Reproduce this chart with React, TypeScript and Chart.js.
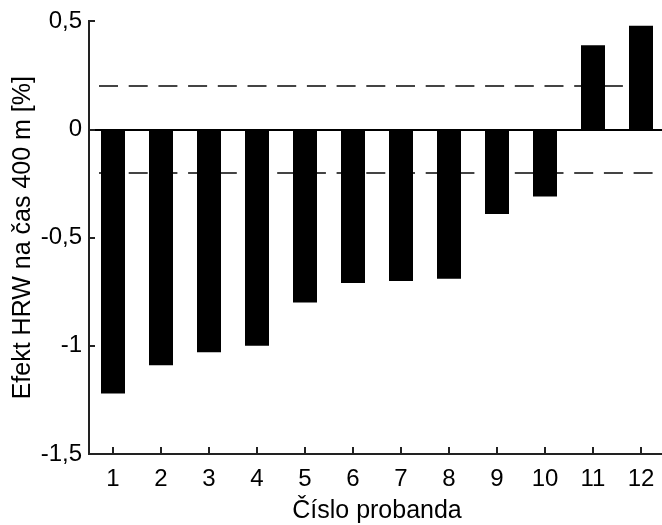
import React, { useEffect, useRef } from 'react';
import { Chart, registerables } from 'chart.js';

Chart.register(...registerables);

const categories = ['1', '2', '3', '4', '5', '6', '7', '8', '9', '10', '11', '12'];
const effectValues = [-1.22, -1.09, -1.03, -1.0, -0.8, -0.71, -0.7, -0.69, -0.39, -0.31, 0.39, 0.48];
const yTickValues = [-1.5, -1, -0.5, 0, 0.5];
const thresholdValues = [0.2, -0.2];
const yAxisTitle = 'Efekt HRW na čas 400 m [%]';
const xAxisTitle = 'Číslo probanda';

const FONT = '"Liberation Sans", Arial, Helvetica, sans-serif';

const decorPlugin = {
  id: 'decor',
  beforeDatasetsDraw(chart: any) {
    const { ctx, chartArea, scales } = chart;
    const y = scales.y;
    ctx.save();
    ctx.strokeStyle = '#444';
    ctx.lineWidth = 2;
    ctx.setLineDash([19, 10.7]);
    ctx.lineDashOffset = 19.7;
    thresholdValues.forEach((v) => {
      const py = Math.round(y.getPixelForValue(v));
      ctx.beginPath();
      ctx.moveTo(chartArea.left, py);
      ctx.lineTo(chartArea.right, py);
      ctx.stroke();
    });
    ctx.restore();
  },
  afterDatasetsDraw(chart: any) {
    const { ctx, chartArea, scales } = chart;
    const x = scales.x;
    const y = scales.y;
    ctx.save();
    ctx.strokeStyle = '#000';
    ctx.lineWidth = 2;
    const py0 = Math.round(y.getPixelForValue(0));
    ctx.beginPath();
    ctx.moveTo(chartArea.left, py0);
    ctx.lineTo(chartArea.right, py0);
    ctx.stroke();
    ctx.strokeStyle = '#222';
    yTickValues.forEach((v) => {
      const py = Math.round(y.getPixelForValue(v));
      ctx.beginPath();
      ctx.moveTo(chartArea.left, py);
      ctx.lineTo(chartArea.left + 6, py);
      ctx.stroke();
    });
    categories.forEach((_, i) => {
      const px = Math.round(x.getPixelForValue(i));
      ctx.beginPath();
      ctx.moveTo(px, chartArea.bottom);
      ctx.lineTo(px, chartArea.bottom - 7);
      ctx.stroke();
    });
    ctx.restore();
  },
};

export default function App() {
  const canvasRef = useRef<HTMLCanvasElement | null>(null);

  useEffect(() => {
    const canvas = canvasRef.current;
    if (!canvas) return;
    const chart = new Chart(canvas, {
      type: 'bar',
      data: {
        labels: categories,
        datasets: [
          {
            data: effectValues,
            backgroundColor: '#000',
            borderWidth: 0,
            categoryPercentage: 1,
            barPercentage: 0.5,
          },
        ],
      },
      options: {
        responsive: false,
        animation: false,
        devicePixelRatio: 1,
        layout: { padding: { top: 18, right: 1, left: 0, bottom: 0 } },
        plugins: {
          legend: { display: false },
          tooltip: { enabled: false },
          title: { display: false },
        },
        scales: {
          x: {
            type: 'category',
            offset: true,
            grid: { display: false, drawTicks: false, offset: true },
            border: { display: true, color: '#222', width: 2 },
            ticks: {
              color: '#000',
              font: { family: FONT, size: 24 },
              padding: 11,
              maxRotation: 0,
              autoSkip: false,
            },
            title: {
              display: true,
              text: xAxisTitle,
              color: '#000',
              font: { family: FONT, size: 25 },
              padding: { top: 0, bottom: -1 },
            },
            afterFit: (s: any) => {
              s.height = 71;
            },
          },
          y: {
            type: 'linear',
            min: -1.5,
            max: 0.5,
            grid: { display: false, drawTicks: false },
            border: { display: true, color: '#222', width: 2 },
            afterBuildTicks: (s: any) => {
              s.ticks = yTickValues.map((v) => ({ value: v }));
            },
            ticks: {
              color: '#000',
              font: { family: FONT, size: 24 },
              padding: 7,
              callback: (v: any) => String(v).replace('.', ','),
            },
            title: {
              display: true,
              text: yAxisTitle,
              color: '#000',
              font: { family: FONT, size: 25 },
              padding: { top: 8, bottom: 0 },
            },
            afterFit: (s: any) => {
              s.width = 89;
            },
          },
        },
      },
      plugins: [decorPlugin],
    });
    return () => chart.destroy();
  }, []);

  return (
    <div
      style={{
        position: 'fixed',
        left: 0,
        top: 0,
        width: 662,
        height: 525,
        overflow: 'hidden',
        background: '#fff',
      }}
    >
      <canvas ref={canvasRef} width={666} height={525} style={{ display: 'block' }} />
    </div>
  );
}
